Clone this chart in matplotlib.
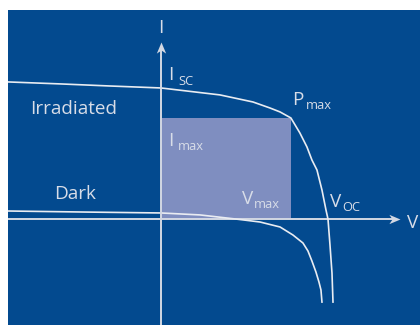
import matplotlib
matplotlib.use("Agg")
import matplotlib.pyplot as plt
from matplotlib.patches import Rectangle
from matplotlib.path import Path

# Normalised I-V characteristics (V / V_oc, I / I_sc)
irradiated_v = [-0.916, -0.605, -0.305, 0.0, 0.353, 0.551, 0.653, 0.713, 0.778,
                0.832, 0.874, 0.904, 0.934, 0.964, 0.988, 1.0, 1.012, 1.024, 1.030]
irradiated_i = [1.046, 1.031, 1.015, 1.0, 0.947, 0.893, 0.847, 0.817, 0.771,
                0.656, 0.550, 0.450, 0.374, 0.221, 0.069, 0.0, -0.198, -0.412, -0.634]

dark_v = [-0.916, -0.455, 0.0, 0.234, 0.473, 0.593, 0.713, 0.790, 0.850,
          0.880, 0.904, 0.928, 0.946, 0.958, 0.964]
dark_i = [0.061, 0.053, 0.046, 0.031, -0.004, -0.023, -0.061, -0.122, -0.183,
          -0.244, -0.321, -0.405, -0.481, -0.542, -0.634]

v_oc = 1.0
i_sc = 1.0
v_max = 0.778
i_max = 0.771

BG = "#034A8F"
FILL = "#7F8EC0"
CURVE = "#E9ECF2"
AXIS = "#D3D8E3"
TEXT = "#D8DDE8"

plt.rcParams["font.family"] = ["Open Sans", "DejaVu Sans"]

fig = plt.figure(figsize=(4.2, 3.25), dpi=100, facecolor="white")
ax = fig.add_axes([8 / 420, 0, 412 / 420, 315 / 325])
ax.set_facecolor(BG)
ax.set_xlim(-0.916, 1.551)
ax.set_ylim(-0.809, 1.595)
for s in ax.spines.values():
    s.set_visible(False)
ax.set_xticks([])
ax.set_yticks([])

# maximum power rectangle
ax.add_patch(Rectangle((0, 0), v_max, i_max, facecolor=FILL, edgecolor="none", zorder=1))

# curves
ax.plot(irradiated_v, irradiated_i, color=CURVE, lw=1.2, solid_joinstyle="round", zorder=3)
ax.plot(dark_v, dark_i, color=CURVE, lw=1.2, solid_joinstyle="round", zorder=3)

# coordinate axes with stealth arrow heads
x_tip = 1.431
y_tip = 1.351
ax.plot([-0.916, x_tip - 0.03], [0, 0], color=AXIS, lw=1.4, zorder=2, solid_capstyle="butt")
ax.plot([0, 0], [-0.809, y_tip - 0.03], color=AXIS, lw=1.4, zorder=4, solid_capstyle="butt")

head_x = Path([(0, 0), (-1, 0.42), (-0.72, 0), (-1, -0.42), (0, 0)],
              [Path.MOVETO, Path.LINETO, Path.LINETO, Path.LINETO, Path.CLOSEPOLY])
head_y = Path([(0, 0), (0.42, -1), (0, -0.72), (-0.42, -1), (0, 0)],
              [Path.MOVETO, Path.LINETO, Path.LINETO, Path.LINETO, Path.CLOSEPOLY])
ax.plot([x_tip], [0], marker=head_x, markersize=16, color=AXIS, mec="none", zorder=5)
ax.plot([0], [y_tip], marker=head_y, markersize=16, color=AXIS, mec="none", zorder=5)

big = 13.6
small = 9.3


def label(xy, dx, dy, s, size, ha="left"):
    ax.annotate(s, xy=xy, xytext=(dx, dy), textcoords="offset pixels",
                ha=ha, va="baseline", fontsize=size, color=TEXT, zorder=6)


# axis names
label((0, y_tip), 0, 9, "I", big, ha="center")
label((x_tip, 0), 7, -9, "V", big)

# characteristic points
label((0, i_sc), 7, 8, "I", big)
label((0, i_sc), 17, 3, "SC", small)
label((v_max, i_max), 1, 13, "P", big)
label((v_max, i_max), 15, 9, "max", small)
label((0, i_max), 7, -28, "I", big)
label((0, i_max), 17, -32, "max", small)
label((v_max, 0), -49, 15, "V", big)
label((v_max, 0), -37, 11, "max", small)
label((v_oc, 0), 2, 12, "V", big)
label((v_oc, 0), 14, 8, "OC", small)

# curve names
ax.text(-0.781, 0.802, "Irradiated", fontsize=big, color=TEXT, ha="left", va="baseline")
ax.text(-0.641, 0.153, "Dark", fontsize=big, color=TEXT, ha="left", va="baseline")

fig.savefig("out.png", dpi=100, facecolor="white")
